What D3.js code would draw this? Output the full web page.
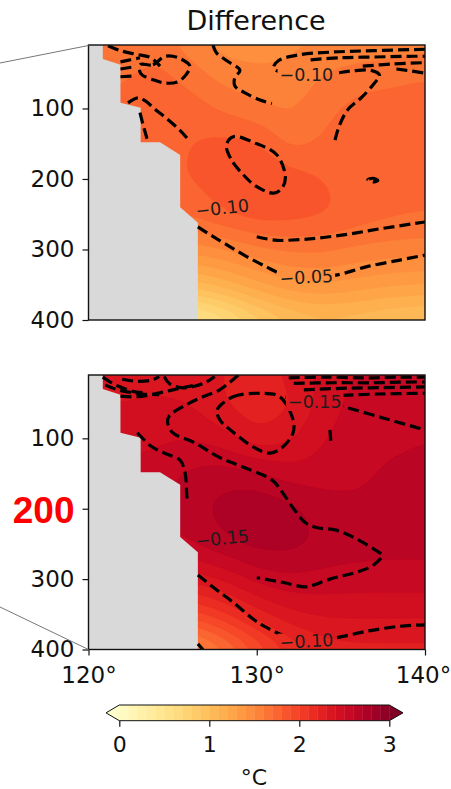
<!DOCTYPE html>
<html>
<head>
<meta charset="utf-8">
<script src="https://cdn.jsdelivr.net/npm/d3@7"></script>
<style>
  html, body { margin: 0; padding: 0; background: #fff; }
  svg { display: block; }
  text { font-family: "DejaVu Sans", sans-serif; fill: #111; }
</style>
</head>
<body>
<svg id="fig" width="451" height="789"></svg>
<script>
// ---- grid of the temperature-difference sections (°C) ----
const lons   = [120, 122, 124, 126, 128, 130, 132, 134, 136, 138, 140];
const depths = [10, 50, 100, 150, 200, 250, 300, 350, 400];

const tempUpper = [
  [1.62, 1.62, 1.65, 1.55, 1.45, 1.45, 1.48, 1.50, 1.50, 1.52, 1.55],
  [1.65, 1.68, 1.74, 1.65, 1.55, 1.52, 1.52, 1.60, 1.66, 1.68, 1.70],
  [1.72, 1.74, 1.78, 1.76, 1.68, 1.62, 1.58, 1.68, 1.73, 1.73, 1.73],
  [1.74, 1.74, 1.76, 1.80, 1.84, 1.82, 1.66, 1.72, 1.74, 1.74, 1.74],
  [1.78, 1.78, 1.78, 1.80, 1.86, 1.93, 1.86, 1.80, 1.76, 1.75, 1.74],
  [1.70, 1.70, 1.72, 1.72, 1.80, 1.86, 1.85, 1.82, 1.76, 1.72, 1.70],
  [1.45, 1.45, 1.45, 1.45, 1.50, 1.58, 1.62, 1.62, 1.58, 1.56, 1.55],
  [1.05, 1.05, 1.05, 1.05, 1.15, 1.28, 1.38, 1.40, 1.36, 1.32, 1.30],
  [0.45, 0.45, 0.45, 0.45, 0.60, 0.82, 0.98, 1.05, 1.02, 0.98, 0.95]
];

const tempLower = [
  [2.35, 2.35, 2.36, 2.34, 2.30, 2.26, 2.32, 2.44, 2.50, 2.52, 2.52],
  [2.40, 2.40, 2.42, 2.40, 2.30, 2.22, 2.28, 2.45, 2.54, 2.56, 2.56],
  [2.46, 2.46, 2.48, 2.50, 2.44, 2.32, 2.38, 2.50, 2.55, 2.58, 2.60],
  [2.52, 2.52, 2.55, 2.62, 2.66, 2.62, 2.54, 2.55, 2.58, 2.62, 2.62],
  [2.58, 2.58, 2.60, 2.66, 2.74, 2.80, 2.74, 2.65, 2.62, 2.63, 2.64],
  [2.55, 2.55, 2.55, 2.60, 2.68, 2.74, 2.74, 2.68, 2.65, 2.64, 2.64],
  [2.32, 2.32, 2.32, 2.34, 2.42, 2.54, 2.58, 2.56, 2.55, 2.55, 2.55],
  [1.92, 1.92, 1.92, 1.95, 2.08, 2.26, 2.38, 2.42, 2.42, 2.42, 2.42],
  [1.40, 1.40, 1.40, 1.45, 1.64, 1.90, 2.12, 2.24, 2.26, 2.26, 2.26]
];

// ---- coastline / shelf edge (lon, depth) ----
const coastLon   = [120, 120.85, 120.85, 121.9, 121.9, 123.1, 123.1, 124.25, 125.45, 125.45, 126.5, 126.5, 120];
const coastDepth = [10,  10,     30,     38,    92,    99,    148,   148,    166,    240,    262,   400,   400];

// ---- dashed isolines of the second field: [lon, depth] vertices ----
const upperIsolines = [
  { closed: false, pts: [[126.5,268],[127.3,280],[128.2,293],[129.4,310],[130.6,325],[131.6,336],[132.9,340],[134.0,338],[134.8,336],[136.6,324],[138.5,315],[140,308]] },
  { closed: false, pts: [[130.0,282],[131.2,287],[132.5,286],[133.6,284],[135.5,278],[137.5,270],[140,261]] },
  { closed: true,  pts: [[128.6,140],[129.9,149],[131.2,166],[131.7,197],[131.5,213],[131.0,220],[130.0,211],[129.2,194],[128.5,173],[128.2,152]] },
  { closed: false, pts: [[127.4,10],[127.6,21],[128.2,32],[129.0,46],[128.7,56],[128.7,68],[129.3,78],[130.2,88],[130.9,93]] },
  { closed: false, pts: [[134.65,145],[134.9,125],[135.4,102],[136.25,84],[137.0,64],[137.3,53],[136.8,46],[135.6,47],[134.4,51],[133.0,53],[131.8,52],[131.0,42],[131.3,32],[132.5,24],[134.5,20],[137,18],[140,16]] },
  { closed: false, pts: [[133.2,31],[135,28],[137,27],[139,26],[140,26]] },
  { closed: false, pts: [[136.3,40],[138,37],[140,35]] },
  { closed: false, pts: [[138.3,44],[139.2,47],[140,50]] },
  { closed: false, pts: [[121.16,11],[121.9,18],[122.8,23],[123.7,28],[124.25,40]] },
  { closed: true,  pts: [[123.06,38],[123.83,38],[124.55,26],[125.32,28],[126.03,40],[125.8,52],[125.32,62],[124.55,64],[123.95,60],[123.12,51]] },
  { closed: false, pts: [[121.9,34],[122.5,31],[123.06,28]] },
  { closed: false, pts: [[121.9,44],[122.7,41]] },
  { closed: false, pts: [[121.9,55],[122.8,54]] },
  { closed: false, pts: [[122.35,92],[122.94,85],[123.36,89],[123.95,101],[124.73,116],[125.44,131],[125.85,142]] },
  { closed: false, pts: [[123.06,106],[123.24,123],[123.42,138],[123.54,149]] },
  { closed: true,  pts: [[136.6,201],[136.9,199],[137.2,202],[136.9,204]] }
];

const lowerIsolines = [
  { closed: false, pts: [[126.5,294],[127.6,315],[128.6,333],[129.8,357],[130.6,369],[131.8,382],[132.96,388],[134.0,386],[134.8,383],[136.55,374],[138.5,367],[140,365]] },
  { closed: false, pts: [[128.9,10],[127.8,31],[126.6,43],[125.6,55],[124.8,68],[124.7,77],[125.0,92],[126.3,106],[127.7,126],[129.1,140],[130.9,159],[131.5,176],[132.1,197],[132.9,220],[133.6,227],[134.65,230],[135.7,240],[137.2,261],[137.45,266],[137.0,279],[136.1,289],[134.35,300],[133.3,309],[132.9,311],[131.4,304],[130.0,298]] },
  { closed: false, pts: [[122.9,92],[123.77,112],[124.72,123],[125.44,131],[125.74,149],[125.85,183],[125.91,190]] },
  { closed: true,  pts: [[127.64,60],[128.59,41],[130.19,36],[131.38,41],[132.16,74],[132.16,92],[131.56,112],[130.79,121],[129.78,112],[128.59,91],[127.82,74]] },
  { closed: false, pts: [[134.35,88],[134.4,104]] },
  { closed: false, pts: [[131.7,41],[132.5,45],[133.5,48],[134.5,52],[135.13,55],[137.5,71],[140,88]] },
  { closed: false, pts: [[131.9,14],[134,13],[136.5,14],[138.5,13],[140,13]] },
  { closed: false, pts: [[132.2,22],[134.5,21],[137,21],[139,20],[140,20]] },
  { closed: false, pts: [[132.8,31],[135,29],[137.3,28],[140,27]] },
  { closed: false, pts: [[135.1,39],[137.2,37],[140,36]] },
  { closed: false, pts: [[120.85,13],[121.3,20],[121.9,27],[122.6,33],[123.3,35]] },
  { closed: false, pts: [[121.0,24],[121.6,30],[122.3,34],[123.2,37],[124.2,38]] },
  { closed: false, pts: [[121.9,40],[122.8,41],[123.7,38],[124.5,34],[125.4,29],[126.2,25]] },
  { closed: false, pts: [[124.5,12],[124.8,22],[125.5,28],[126.3,26],[127.0,20],[127.5,12]] },
  { closed: false, pts: [[122.0,16],[122.9,19],[123.8,17],[124.2,12]] },
  { closed: false, pts: [[126.5,392],[126.8,400]] }
];

const upperLabels = [
  { text: "\u22120.10", lon: 132.95, depth: 52,  angle: 0 },
  { text: "\u22120.10", lon: 127.95, depth: 241, angle: -6 },
  { text: "\u22120.05", lon: 132.95, depth: 339, angle: -3 }
];
const lowerLabels = [
  { text: "\u22120.15", lon: 133.45, depth: 48,  angle: 0 },
  { text: "\u22120.15", lon: 127.95, depth: 242, angle: -6 },
  { text: "\u22120.10", lon: 132.96, depth: 388, angle: -3 }
];

const depthTicks = [100, 200, 300, 400];
const lonTicks   = [120, 130, 140];
const cbarTicks  = [0, 1, 2, 3];
const levels = d3.range(31).map(i => +(i * 0.1).toFixed(1));   // 0.0 … 3.0

// ---- layout ----
const svg = d3.select("#fig");
const x = d3.scaleLinear([120, 140], [88.5, 425]);
const panels = [
  { id: "upper", field: tempUpper, iso: upperIsolines, labels: upperLabels, y: d3.scaleLinear([10, 400], [45, 320]) },
  { id: "lower", field: tempLower, iso: lowerIsolines, labels: lowerLabels, y: d3.scaleLinear([10, 400], [375, 649.5]) }
];

const bandColor = i => d3.interpolateYlOrRd((i + 1) / 31);
const underColor = d3.interpolateYlOrRd(0);
const overColor = d3.interpolateYlOrRd(1);

// resample the coarse section onto a fine grid for contouring
const NX = 200, NY = 390;
function resample(rows) {
  const vals = new Float64Array(NX * NY);
  for (let j = 0; j < NY; j++) {
    const d = 10 + (j + 0.5) * (390 / NY);
    let k = d3.bisectRight(depths, d) - 1;
    k = Math.max(0, Math.min(depths.length - 2, k));
    const fy = (d - depths[k]) / (depths[k + 1] - depths[k]);
    for (let i = 0; i < NX; i++) {
      const lo = 120 + (i + 0.5) * (20 / NX);
      let m = Math.max(0, Math.min(lons.length - 2, d3.bisectRight(lons, lo) - 1));
      const fx = (lo - lons[m]) / (lons[m + 1] - lons[m]);
      const a = rows[k][m] * (1 - fx) + rows[k][m + 1] * fx;
      const b = rows[k + 1][m] * (1 - fx) + rows[k + 1][m + 1] * fx;
      vals[j * NX + i] = a * (1 - fy) + b * fy;
    }
  }
  if (d3.blur2) d3.blur2({ data: vals, width: NX, height: NY }, 6, 14);
  return vals;
}

const defs = svg.append("defs");

panels.forEach(p => {
  const y = p.y;
  const [x0, x1] = x.range();
  const [y0, y1] = y.range();

  defs.append("clipPath").attr("id", "clip-" + p.id)
    .append("rect").attr("x", x0).attr("y", y0).attr("width", x1 - x0).attr("height", y1 - y0);

  const g = svg.append("g").attr("clip-path", `url(#clip-${p.id})`);

  // filled contours
  const vals = resample(p.field);
  const proj = d3.geoTransform({
    point(px, py) { this.stream.point(x(120 + px * 20 / NX), y(10 + py * 390 / NY)); }
  });
  const path = d3.geoPath(proj);
  g.append("rect").attr("x", x0).attr("y", y0).attr("width", x1 - x0).attr("height", y1 - y0)
    .attr("fill", underColor);
  const cs = d3.contours().size([NX, NY]).thresholds(levels)(vals);
  g.selectAll("path.band").data(cs).join("path")
    .attr("class", "band")
    .attr("d", path)
    .attr("fill", (c, i) => i >= 30 ? overColor : bandColor(i))
    .attr("stroke", (c, i) => i >= 30 ? overColor : bandColor(i))
    .attr("stroke-width", 0.4);

  // land
  const coast = d3.zip(coastLon, coastDepth);
  g.append("path")
    .attr("d", d3.line().x(d => x(d[0])).y(d => y(d[1]))(coast) + "Z")
    .attr("fill", "#d9d9d9");

  // labels (measured first so the lines can be masked under them)
  const mask = defs.append("mask").attr("id", "mask-" + p.id).attr("maskUnits", "userSpaceOnUse")
    .attr("x", 0).attr("y", 0).attr("width", 451).attr("height", 789);
  mask.append("rect").attr("x", 0).attr("y", 0).attr("width", 451).attr("height", 789).attr("fill", "#fff");

  const lineGroup = g.append("g").attr("mask", `url(#mask-${p.id})`);
  const labelGroup = g.append("g");

  p.labels.forEach(l => {
    const tr = `translate(${x(l.lon)},${y(l.depth)}) rotate(${l.angle})`;
    const t = labelGroup.append("text")
      .attr("transform", tr)
      .attr("text-anchor", "middle")
      .attr("dy", "0.36em")
      .attr("font-size", 17.5)
      .style("fill", "#1c1c1c")
      .text(l.text);
    const bb = t.node().getBBox();
    mask.append("rect").attr("transform", tr)
      .attr("x", bb.x - 2).attr("y", bb.y + 1).attr("width", bb.width + 4).attr("height", bb.height - 2)
      .attr("fill", "#000");
  });

  // dashed isolines
  const open = d3.line().x(d => x(d[0])).y(d => y(d[1])).curve(d3.curveCatmullRom.alpha(0.5));
  const closed = d3.line().x(d => x(d[0])).y(d => y(d[1])).curve(d3.curveCatmullRomClosed.alpha(0.5));
  lineGroup.selectAll("path").data(p.iso).join("path")
    .attr("d", d => (d.closed ? closed : open)(d.pts))
    .attr("fill", "none")
    .attr("stroke", "#000")
    .attr("stroke-width", 3.2)
    .attr("stroke-dasharray", "11,5");

  // frame
  svg.append("rect").attr("x", x0).attr("y", y0).attr("width", x1 - x0).attr("height", y1 - y0)
    .attr("fill", "none").attr("stroke", "#111").attr("stroke-width", 1.4);

  // depth axis
  const ay = svg.append("g").attr("transform", `translate(${x0},0)`)
    .call(d3.axisLeft(y).tickValues(depthTicks).tickSize(6).tickPadding(8).tickSizeOuter(0));
  ay.select(".domain").remove();
  ay.selectAll("line").attr("stroke", "#111").attr("stroke-width", 1.2);
  ay.selectAll("text").attr("font-size", 23).style("fill", "#111");
  p.axis = ay;
});

// the 200 m label of the lower section is emphasised
panels[1].axis.selectAll(".tick").filter(d => d === 200).select("text")
  .attr("font-size", 37)
  .attr("dy", "0.36em")
  .style("font-family", "'Liberation Sans', Arial, sans-serif")
  .style("font-weight", "bold")
  .style("fill", "#ff0000");

// longitude axis under the lower section
const ax = svg.append("g").attr("transform", `translate(0,${panels[1].y.range()[1]})`)
  .call(d3.axisBottom(x).tickValues(lonTicks).tickSize(6).tickPadding(11).tickFormat(d => d + "\u00b0"));
ax.select(".domain").remove();
ax.selectAll("line").attr("stroke", "#111").attr("stroke-width", 1.2);
ax.selectAll("text").attr("font-size", 23).style("fill", "#111");
// keep the last label inside the figure edge
ax.selectAll(".tick").filter(d => d === 140).select("text").attr("dx", -2);

// zoom guide lines on the left
const guide = [[0, 63, 88.5, 45.5], [0, 607, 88.5, 649.5]];
svg.selectAll("line.guide").data(guide).join("line")
  .attr("class", "guide")
  .attr("x1", d => d[0]).attr("y1", d => d[1]).attr("x2", d => d[2]).attr("y2", d => d[3])
  .attr("stroke", "#777").attr("stroke-width", 1);

// title
svg.append("text").attr("x", 256).attr("y", 30).attr("text-anchor", "middle")
  .attr("font-size", 27).text("Difference");

// colourbar
const cb = d3.scaleLinear([0, 3], [119.3, 389.3]);
const cbTop = 705, cbBot = 720.7, cbMid = (cbTop + cbBot) / 2;
const cbg = svg.append("g");
cbg.selectAll("rect").data(d3.range(30)).join("rect")
  .attr("x", i => cb(levels[i])).attr("width", i => cb(levels[i + 1]) - cb(levels[i]) + 0.4)
  .attr("y", cbTop).attr("height", cbBot - cbTop)
  .attr("fill", i => bandColor(i));
cbg.append("path").attr("d", `M${cb(0)},${cbTop}L${cb(0) - 13.3},${cbMid}L${cb(0)},${cbBot}Z`).attr("fill", underColor);
cbg.append("path").attr("d", `M${cb(3)},${cbTop}L${cb(3) + 13.7},${cbMid}L${cb(3)},${cbBot}Z`).attr("fill", overColor);
cbg.append("path")
  .attr("d", `M${cb(0)},${cbTop}L${cb(3)},${cbTop}L${cb(3) + 13.7},${cbMid}L${cb(3)},${cbBot}L${cb(0)},${cbBot}L${cb(0) - 13.3},${cbMid}Z`)
  .attr("fill", "none").attr("stroke", "#111").attr("stroke-width", 1);
const cax = svg.append("g").attr("transform", `translate(0,${cbBot})`)
  .call(d3.axisBottom(cb).tickValues(cbarTicks).tickSize(6).tickPadding(10).tickFormat(d3.format("d")));
cax.select(".domain").remove();
cax.selectAll("line").attr("stroke", "#111").attr("stroke-width", 1.2);
cax.selectAll("text").attr("font-size", 22).style("fill", "#111");
svg.append("text").attr("x", 254).attr("y", 785).attr("text-anchor", "middle")
  .attr("font-size", 22).text("\u00b0C");
</script>
</body>
</html>
